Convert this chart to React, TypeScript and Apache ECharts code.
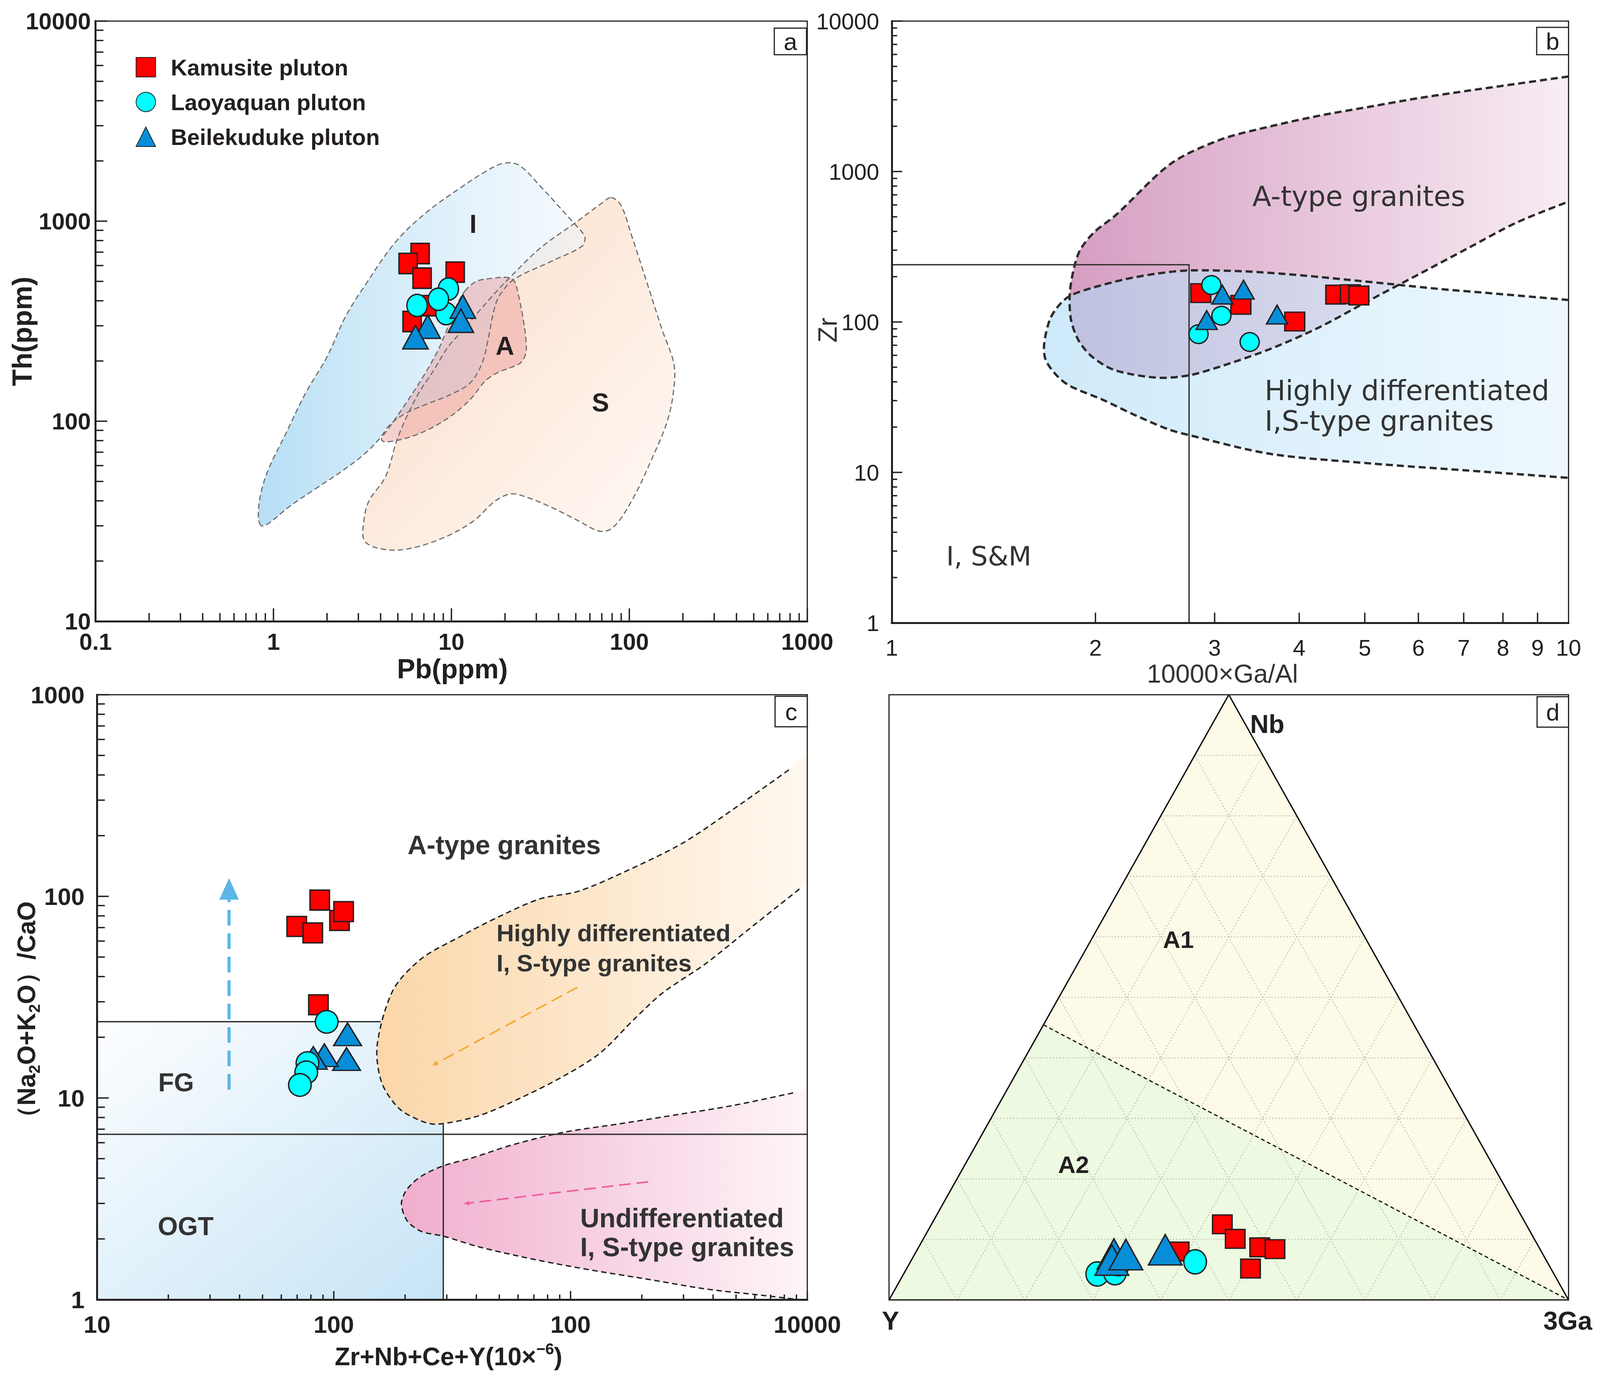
import React, { useEffect, useRef } from "react";
import * as echarts from "echarts";

const REF_W = 4170;
const H = 3519;
const INK = "#231f20";
const SANS = "'Liberation Sans', Arial, Helvetica, sans-serif";
const NARROW = "'Liberation Sans Narrow', 'Liberation Sans', Arial, sans-serif";
const DEJAVU = "'DejaVu Sans', Verdana, sans-serif";

const PLUTONS = ["Kamusite pluton", "Laoyaquan pluton", "Beilekuduke pluton"];
const PLUTON_COLORS = ["#ff0000", "#00ffff", "#078ed8"];
const PLUTON_SYMBOLS = ["rect", "circle", "triangle"];

// ---------------- (a) Th vs Pb ----------------
const A_X_RANGE = [0.1, 1000];
const A_Y_RANGE = [10, 10000];
const A_KAM = [[6.67, 689], [5.71, 614], [6.84, 519], [10.5, 556], [7.59, 378], [6.01, 315]];
const A_LAO = [[9.62, 458], [9.33, 345], [6.41, 379], [8.45, 407]];
const A_BEI = [[11.6, 374], [11.3, 318], [7.36, 297], [6.28, 263]];
const A_FIELD_I = [
  [0.85, 30.1], [0.822, 34.2], [0.851, 44], [0.94, 57.9], [1.156, 84.4], [1.52, 139], [1.99, 208],
  [2.54, 333], [3.27, 478], [4.88, 791], [7.34, 1117], [11.3, 1472], [15.3, 1755], [19.4, 1941],
  [23.8, 1911], [32.1, 1472], [47.9, 995], [54.9, 869], [56.4, 821], [54.1, 748], [36.6, 631],
  [22.6, 513], [18.7, 427], [17.3, 355], [16.1, 258], [14.9, 196], [12.8, 156], [10.1, 137],
  [7.31, 122], [5.59, 110], [4.51, 96], [3.94, 81.8], [3.27, 69], [2.44, 56.5], [1.74, 46.2],
  [1.24, 37.7], [0.94, 30.9],
];
const A_FIELD_S = [
  [78.9, 1312], [89.5, 1205], [103, 847], [126, 488], [154, 281], [177, 198], [179, 154], [165, 103],
  [134.6, 65.6], [102.6, 39.7], [80.9, 29.4], [68.2, 28.2], [52, 31.7], [37, 36.9], [26.3, 41.8],
  [21.5, 43.3], [17.5, 39.7], [13.3, 31.7], [8.88, 26.0], [5.52, 22.9], [3.93, 23.1], [3.24, 25.3],
  [3.21, 30.9], [3.43, 39.7], [4.27, 53], [5.02, 83.7], [6.39, 133], [7.93, 179], [9.57, 235],
  [11.5, 283], [16.4, 408], [21.4, 525], [32.0, 741], [49.2, 975], [70, 1230],
];
const A_FIELD_A = [
  [11.9, 447], [13.9, 501], [17.3, 519], [20.8, 523], [22.6, 501], [23.8, 427], [25.2, 332],
  [26.2, 258], [26.2, 219], [24.5, 196], [21.4, 185], [18.2, 175], [15.5, 159], [13.2, 133],
  [10.9, 113], [8.36, 96.2], [6.39, 85.7], [4.89, 80], [4.16, 79.1], [4.05, 81.8], [4.51, 94],
  [5.59, 124], [6.93, 167], [8.36, 224], [9.57, 296], [10.6, 372],
];

// ---------------- (b) Zr vs 10000Ga/Al ----------------
const B_X_RANGE = [1, 10];
const B_Y_RANGE = [1, 10000];
const B_X_LABEL_VALUES = [1, 2, 3, 4, 5, 6, 7, 8, 9, 10];
const B_X_TICKS = [2, 3, 4, 5, 6, 7, 8, 9];
const B_KAM = [[2.862, 155.6], [3.28, 130], [3.94, 100.7], [4.53, 152], [4.76, 153], [4.9, 150]];
const B_LAO = [[2.967, 176], [3.07, 110], [2.84, 83], [3.38, 73.6]];
const B_BEI = [[3.08, 152], [3.31, 164], [2.92, 103], [3.71, 112]];
const B_FIELD_A = [
  [10, 4285], [8.38, 3830], [7.08, 3437], [5.99, 3070], [5.06, 2687], [4.28, 2350], [3.617, 1991],
  [3.06, 1629], [2.585, 1128], [2.145, 515], [1.99, 394], [1.9, 303], [1.86, 231], [1.833, 155],
  [1.84, 104], [1.888, 75.5], [1.973, 59.2], [2.133, 47.9], [2.47, 42.6], [2.75, 44.2], [3.06, 50.6],
  [3.62, 66], [4.28, 92], [5.06, 138], [5.99, 206], [7.08, 307], [8.38, 458], [10, 631],
];
const B_FIELD_HD = [
  [10, 140], [7.707, 155], [6.515, 165], [5.507, 178], [4.656, 192], [3.935, 206], [3.325, 217],
  [2.75, 220], [2.47, 210], [2.21, 192], [1.973, 168], [1.833, 149], [1.765, 128.5], [1.713, 104],
  [1.68, 71.6], [1.688, 56.1], [1.752, 44.2], [1.833, 37.6], [2.05, 30.4], [2.294, 23.9],
  [2.566, 19.3], [2.75, 17.7], [3.617, 13.3], [5.06, 11.5], [7.08, 10.3], [10, 9.2],
];
const B_LINES = [[1, 240], [2.75, 240], [2.75, 1]];

// ---------------- (c) (Na2O+K2O)/CaO vs Zr+Nb+Ce+Y ----------------
const C_X_RANGE = [10, 10000];
const C_Y_RANGE = [1, 1000];
const C_X_TICK_VALUES = [10, 100, 1000, 10000];
const C_X_LABELS = ["10", "100", "100", "10000"];
const C_KAM = [[87.2, 95.8], [105.7, 75.9], [110, 84], [69.7, 70.9], [81.5, 65.9], [86.1, 29.0]];
const C_LAO = [[93.3, 23.85], [77.4, 14.9], [76.5, 13.4], [71.9, 11.6]];
const C_BEI = [[114.3, 20.7], [113.2, 15.6], [91.2, 16.3], [81.9, 15.8]];
const C_FIELD_FG = [[10, 1], [290, 1], [290, 23.9], [10, 23.9]];
const C_FIELD_HD = [
  [8356, 424], [5012, 277], [3006, 185], [1803, 137], [1081, 106], [745, 97.3], [494, 78.9],
  [335, 62.4], [234, 49.0], [178, 34.3], [152.5, 18.3], [159, 12.0], [188, 8.9], [234, 7.69],
  [273, 7.41], [407, 8.14], [615, 10.0], [931, 12.8], [1333, 16.7], [1858, 24.6], [2449, 33.2],
  [3707, 46.2], [5610, 68.1], [9290, 109],
];
const C_FIELD_UD = [
  [8710, 10.6], [4885, 9.19], [2812, 8.26], [1618, 7.45], [931, 6.75], [567, 5.85], [385, 5.05],
  [292, 4.62], [234, 4.09], [204, 3.53], [193, 3.0], [204, 2.46], [234, 2.18], [292, 2.06],
  [407, 1.83], [706, 1.58], [1227, 1.4], [2133, 1.26], [3707, 1.13], [6442, 1.05], [9204, 1.0],
];
const C_LINE_FG = [[10, 23.9], [158, 23.9]];
const C_LINE_OGT = [[10, 6.6], [10000, 6.6]];
const C_LINE_VERT = [[290, 1], [290, 7.41]];
const C_ARROW_BLUE = [[36.1, 11.0], [36.1, 123]];
const C_ARROW_ORANGE = [[1069, 35.4], [261, 14.5]];
const C_ARROW_PINK = [[2128, 3.84], [354, 2.99]];

// ---------------- (d) Nb - Y - 3Ga ternary (percent: Y, Nb, 3Ga) ----------------
const D_KAM = [[44.7, 12.5, 42.8], [44.0, 10.1, 45.9], [41.1, 8.7, 50.2], [39.0, 8.4, 52.6], [44.2, 5.2, 50.6], [53.3, 8.0, 38.7]];
const D_LAO = [[67.2, 4.3, 28.5], [64.5, 4.5, 31.0], [51.8, 6.3, 41.9], [63.2, 6.0, 30.8]];
const D_BEI = [[63.1, 7.6, 29.3], [63.9, 6.6, 29.5], [61.4, 7.5, 31.1], [55.2, 8.3, 36.5]];
const D_VERTEX_Y = [100, 0, 0];
const D_VERTEX_NB = [0, 100, 0];
const D_VERTEX_GA = [0, 0, 100];
const D_BOUNDARY = [[54.55, 45.45, 0], [0, 0, 100]];
const D_GRID_STEPS = [10, 20, 30, 40, 50, 60, 70, 80, 90];

// ---------------- helpers ----------------
function tern(r) {
  const s = r[0] + r[1] + r[2];
  const n = r[1] / s;
  const g = r[2] / s;
  return [g + n / 2, n];
}

const plainNum = (v) => String(Number(Number(v).toPrecision(6)));

function logTicks(lo, hi) {
  const major = [];
  const minor = [];
  const e0 = Math.round(Math.log10(lo));
  const e1 = Math.round(Math.log10(hi));
  for (let e = e0; e <= e1; e++) {
    major.push(Number(Math.pow(10, e).toPrecision(6)));
    if (e < e1) for (let m = 2; m <= 9; m++) minor.push(Number((m * Math.pow(10, e)).toPrecision(6)));
  }
  return { major, minor };
}

function tickSeries(g, xT, yT, xMin, yMin, lens) {
  const data = [];
  xT.major.forEach((v) => data.push([v, yMin, 0]));
  xT.minor.forEach((v) => data.push([v, yMin, 1]));
  yT.major.forEach((v) => data.push([xMin, v, 2]));
  yT.minor.forEach((v) => data.push([xMin, v, 3]));
  return {
    type: "custom",
    coordinateSystem: "cartesian2d",
    xAxisIndex: g,
    yAxisIndex: g,
    silent: true,
    clip: false,
    z: 12,
    data,
    renderItem: (params, api) => {
      const k = api.value(2);
      const p = api.coord([api.value(0), api.value(1)]);
      const len = lens[k];
      const shape = k < 2
        ? { x1: p[0], y1: p[1], x2: p[0], y2: p[1] - len }
        : { x1: p[0], y1: p[1], x2: p[0] + len, y2: p[1] };
      return { type: "line", shape, style: { stroke: INK, lineWidth: 3.5 } };
    },
  };
}

function shapeSeries(g, pts, o) {
  const anchor = pts[Math.floor(pts.length / 2)];
  return {
    type: "custom",
    coordinateSystem: "cartesian2d",
    xAxisIndex: g,
    yAxisIndex: g,
    silent: true,
    clip: true,
    z: o.z || 1,
    data: [anchor],
    renderItem: (params, api) => {
      if (params.dataIndex !== 0) return null;
      const points = pts.map((p) => api.coord(p));
      return {
        type: o.open ? "polyline" : "polygon",
        shape: { points, smooth: o.smooth || 0 },
        style: {
          fill: o.open ? "none" : o.fill || "none",
          stroke: o.stroke || "none",
          lineWidth: o.lineWidth || 0,
          lineDash: o.dash || null,
        },
      };
    },
  };
}

function arrowSeries(g, pts, color, lw, dash, headLen, headW) {
  return {
    type: "custom",
    coordinateSystem: "cartesian2d",
    xAxisIndex: g,
    yAxisIndex: g,
    silent: true,
    clip: true,
    z: 4,
    data: [pts[0]],
    renderItem: (params, api) => {
      const p0 = api.coord(pts[0]);
      const p1 = api.coord(pts[1]);
      const dx = p1[0] - p0[0];
      const dy = p1[1] - p0[1];
      const L = Math.hypot(dx, dy);
      const ux = dx / L;
      const uy = dy / L;
      const b = [p1[0] - ux * headLen, p1[1] - uy * headLen];
      const l = [b[0] - (uy * headW) / 2, b[1] + (ux * headW) / 2];
      const r = [b[0] + (uy * headW) / 2, b[1] - (ux * headW) / 2];
      return {
        type: "group",
        children: [
          { type: "line", shape: { x1: p0[0], y1: p0[1], x2: b[0], y2: b[1] }, style: { stroke: color, lineWidth: lw, lineDash: dash } },
          { type: "polygon", shape: { points: [p1, l, r] }, style: { fill: color } },
        ],
      };
    },
  };
}

function ternGridSeries() {
  const data = [];
  D_GRID_STEPS.forEach((p) => {
    const q = 100 - p;
    const segs = [
      [tern([q, p, 0]), tern([0, p, q])],
      [tern([q, 0, p]), tern([0, q, p])],
      [tern([p, 0, q]), tern([p, q, 0])],
    ];
    segs.forEach((s) => data.push([s[0][0], s[0][1], s[1][0], s[1][1]]));
  });
  return {
    type: "custom",
    coordinateSystem: "cartesian2d",
    xAxisIndex: 3,
    yAxisIndex: 3,
    silent: true,
    z: 2,
    data,
    renderItem: (params, api) => {
      const a = api.coord([api.value(0), api.value(1)]);
      const b = api.coord([api.value(2), api.value(3)]);
      return { type: "line", shape: { x1: a[0], y1: a[1], x2: b[0], y2: b[1] }, style: { stroke: "#c4c4c4", lineWidth: 3, lineDash: [3, 5] } };
    },
  };
}

function scatter(pi, g, data, size, z) {
  return {
    type: "scatter",
    name: PLUTONS[pi],
    xAxisIndex: g,
    yAxisIndex: g,
    data,
    symbol: PLUTON_SYMBOLS[pi],
    symbolSize: size,
    z: z || 5,
    silent: true,
    itemStyle: { color: PLUTON_COLORS[pi], borderColor: INK, borderWidth: 3.5, opacity: 1 },
    emphasis: { disabled: true },
  };
}

const grad = (x2, y2, c0, c1) =>
  new echarts.graphic.LinearGradient(0, 0, x2, y2, [
    { offset: 0, color: c0 },
    { offset: 1, color: c1 },
  ]);

function axisBase(fontSize, weight, family, margin, formatter) {
  return {
    axisLine: { show: true, onZero: false, lineStyle: { color: INK, width: 5 } },
    axisTick: { show: false },
    minorTick: { show: false },
    splitLine: { show: false },
    axisLabel: { fontSize, fontWeight: weight, fontFamily: family, color: INK, margin, formatter: formatter || plainNum },
    z: 10,
  };
}

function txt(x, y, text, size, o = {}) {
  const align = o.align || "center";
  return {
    type: "text",
    x,
    y,
    z: 100,
    silent: true,
    rotation: o.rot || 0,
    style: {
      text,
      fontSize: size,
      fontFamily: o.family || SANS,
      fontWeight: o.weight || "normal",
      fill: o.color || INK,
      align,
      verticalAlign: "middle",
      textAlign: align,
      textVerticalAlign: "middle",
      rich: o.rich,
    },
  };
}

function buildOption(sx) {
  const X = (v) => v * sx;
  const letterBox = (x, y, w, h, letter) => [
    { type: "rect", z: 99, silent: true, shape: { x: X(x), y, width: X(w), height: h }, style: { fill: "#fff", stroke: INK, lineWidth: 3 } },
    txt(X(x + w / 2), y + h / 2, letter, 62),
  ];

  const gridStyle = { show: true, borderColor: INK, borderWidth: 3, backgroundColor: "transparent", z: 10 };
  const grids = [
    { left: X(249), top: 54, width: X(1855), height: 1536, ...gridStyle },
    { left: X(2324), top: 54, width: X(1764), height: 1540, ...gridStyle },
    { left: X(253), top: 1778, width: X(1851), height: 1548, ...gridStyle },
    { left: X(2317), top: 1778, width: X(1771), height: 1549, ...gridStyle },
  ];

  const cLabel = (v) => {
    let best = 0;
    C_X_TICK_VALUES.forEach((t, i) => {
      if (Math.abs(Math.log10(t) - Math.log10(v)) < Math.abs(Math.log10(C_X_TICK_VALUES[best]) - Math.log10(v))) best = i;
    });
    return C_X_LABELS[best];
  };

  const xAxis = [
    { gridIndex: 0, type: "log", logBase: 10, min: A_X_RANGE[0], max: A_X_RANGE[1], ...axisBase(60, "bold", SANS, 22) },
    {
      gridIndex: 1, type: "log", logBase: 10, min: B_X_RANGE[0], max: B_X_RANGE[1], ...axisBase(58, "normal", NARROW, 34),
      axisLabel: { fontSize: 58, fontFamily: NARROW, color: INK, margin: 34, customValues: B_X_LABEL_VALUES, formatter: plainNum },
    },
    { gridIndex: 2, type: "log", logBase: 10, min: C_X_RANGE[0], max: C_X_RANGE[1], ...axisBase(62, "bold", SANS, 32, cLabel) },
    { gridIndex: 3, type: "value", min: 0, max: 1, show: false },
  ];
  const yAxis = [
    { gridIndex: 0, type: "log", logBase: 10, min: A_Y_RANGE[0], max: A_Y_RANGE[1], ...axisBase(60, "bold", SANS, 12) },
    { gridIndex: 1, type: "log", logBase: 10, min: B_Y_RANGE[0], max: B_Y_RANGE[1], ...axisBase(58, "normal", NARROW, 32) },
    { gridIndex: 2, type: "log", logBase: 10, min: C_Y_RANGE[0], max: C_Y_RANGE[1], ...axisBase(62, "bold", SANS, 32) },
    { gridIndex: 3, type: "value", min: 0, max: 1, show: false },
  ];

  const dashA = { stroke: "#6e6e6e", lineWidth: 3, dash: [14, 8], smooth: 0.35, z: 2 };
  const dashB = { stroke: "#2b2b2b", lineWidth: 6, dash: [18, 10], smooth: 0.3, open: true, z: 2 };
  const dashC = { stroke: "#222", lineWidth: 3.5, dash: [14, 9], smooth: 0.3, open: true, z: 2 };

  const series = [
    // ---- panel a
    scatter(0, 0, A_KAM, [47, 52]),
    scatter(1, 0, A_LAO, [52, 57]),
    scatter(2, 0, A_BEI, [65, 60]),
    shapeSeries(0, A_FIELD_S, { fill: grad(1, 1, "rgb(250,219,196)", "rgb(255,250,247)"), smooth: 0.35 }),
    shapeSeries(0, A_FIELD_I, { fill: grad(1, 0, "rgba(172,218,244,0.88)", "rgba(238,246,252,0.55)"), smooth: 0.35 }),
    shapeSeries(0, A_FIELD_A, { fill: "rgba(236,150,148,0.45)", smooth: 0.35 }),
    shapeSeries(0, A_FIELD_S, dashA),
    shapeSeries(0, A_FIELD_I, dashA),
    shapeSeries(0, A_FIELD_A, dashA),
    tickSeries(0, logTicks(0.1, 1000), logTicks(10, 10000), 0.1, 10, [33, 21, 30, 20]),

    // ---- panel b
    shapeSeries(1, [[11, 4600], ...B_FIELD_A, [11, 700]], { fill: grad(1, 0, "rgb(214,158,194)", "rgb(250,242,247)"), smooth: 0.3 }),
    shapeSeries(1, [[11, 135], ...B_FIELD_HD, [11, 9]], { fill: grad(1, 0, "rgba(170,218,246,0.58)", "rgba(225,242,253,0.5)"), smooth: 0.3 }),
    shapeSeries(1, B_FIELD_A, dashB),
    shapeSeries(1, B_FIELD_HD, dashB),
    shapeSeries(1, B_LINES, { open: true, stroke: "#333", lineWidth: 3.5, z: 3 }),
    tickSeries(1, { major: B_X_TICKS, minor: [] }, logTicks(1, 10000), 1, 1, [26, 0, 27, 14]),
    scatter(0, 1, B_KAM, [51, 48]),
    scatter(1, 1, B_LAO, [49, 48]),
    scatter(2, 1, B_BEI, [54, 48]),

    // ---- panel c
    shapeSeries(2, C_FIELD_FG, { fill: grad(1, 1, "#fdfeff", "#c6e4f6") }),
    shapeSeries(2, [[13000, 650], ...C_FIELD_HD, [13000, 150]], { fill: grad(1, 0, "rgb(251,214,168)", "rgb(255,251,246)"), smooth: 0.3 }),
    shapeSeries(2, [[13000, 12], ...C_FIELD_UD, [13000, 0.97]], { fill: grad(1, 0, "rgb(240,174,204)", "rgb(255,251,253)"), smooth: 0.3 }),
    shapeSeries(2, C_LINE_FG, { open: true, stroke: "#333", lineWidth: 3.5, z: 3 }),
    shapeSeries(2, C_LINE_OGT, { open: true, stroke: "#333", lineWidth: 3.5, z: 3 }),
    shapeSeries(2, C_LINE_VERT, { open: true, stroke: "#333", lineWidth: 3.5, z: 3 }),
    shapeSeries(2, C_FIELD_HD, dashC),
    shapeSeries(2, C_FIELD_UD, dashC),
    arrowSeries(2, C_ARROW_BLUE, "#5bb5e6", 8, [40, 20], 55, 50),
    arrowSeries(2, C_ARROW_ORANGE, "#f5a733", 4, [30, 15], 14, 12),
    arrowSeries(2, C_ARROW_PINK, "#ec5d9f", 4, [30, 15], 14, 12),
    tickSeries(2, logTicks(10, 10000), logTicks(1, 1000), 10, 1, [22, 13, 30, 20]),
    scatter(0, 2, C_KAM, [50, 51]),
    scatter(2, 2, C_BEI, [71, 58]),
    scatter(1, 2, C_LAO, [58, 58]),

    // ---- panel d
    shapeSeries(3, [tern(D_VERTEX_Y), tern(D_BOUNDARY[0]), tern(D_VERTEX_GA)], { fill: "#edf9e0" }),
    shapeSeries(3, [tern(D_VERTEX_NB), tern(D_BOUNDARY[0]), tern(D_VERTEX_GA)], { fill: "#fdfbe7" }),
    ternGridSeries(),
    shapeSeries(3, D_BOUNDARY.map(tern), { open: true, stroke: "#111", lineWidth: 3, dash: [10, 7], z: 3 }),
    shapeSeries(3, [tern(D_VERTEX_Y), tern(D_VERTEX_NB), tern(D_VERTEX_GA)], { stroke: "#111", lineWidth: 3.5, z: 3 }),
    scatter(0, 3, D_KAM.map(tern), [50, 48]),
    scatter(1, 3, D_LAO.map(tern), [58, 62]),
    scatter(2, 3, D_BEI.map(tern), [86, 78]),
  ];

  const subRich = {
    t: { fontSize: 64, fontWeight: "bold", fontFamily: SANS, fill: INK, lineHeight: 80 },
    s: { fontSize: 40, fontWeight: "bold", fontFamily: SANS, fill: INK, lineHeight: 40, verticalAlign: "bottom" },
    p: { fontSize: 40, fontWeight: "bold", fontFamily: SANS, fill: INK, lineHeight: 40, verticalAlign: "top" },
  };

  const graphic = [
    // panel a
    txt(X(1233), 573, "I", 66, { weight: "bold" }),
    txt(X(1316), 885, "A", 66, { weight: "bold" }),
    txt(X(1565), 1030, "S", 66, { weight: "bold" }),
    txt(X(1179), 1712, "Pb(ppm)", 70, { weight: "bold" }),
    txt(X(58), 848, "Th(ppm)", 70, { weight: "bold", rot: Math.PI / 2 }),
    ...letterBox(2018, 72, 84, 68, "a"),
    // panel b
    txt(X(3264), 502, "A-type granites", 71, { align: "left", family: DEJAVU, color: "#333" }),
    txt(X(3296), 999, "Highly differentiated", 71, { align: "left", family: DEJAVU, color: "#333" }),
    txt(X(3296), 1077, "I,S-type granites", 71, { align: "left", family: DEJAVU, color: "#333" }),
    txt(X(2466), 1423, "I, S&M", 68, { align: "left", family: DEJAVU, color: "#333" }),
    txt(X(3186), 1724, "10000×Ga/Al", 66, { color: "#333" }),
    txt(X(2156), 845, "Zr", 68, { rot: Math.PI / 2, color: "#333" }),
    ...letterBox(4005, 70, 83, 70, "b"),
    // panel c
    txt(X(1062), 2162, "A-type granites", 68, { align: "left", weight: "bold", color: "#333" }),
    txt(X(1294), 2387, "Highly differentiated", 62, { align: "left", weight: "bold", color: "#333" }),
    txt(X(1294), 2464, "I, S-type granites", 62, { align: "left", weight: "bold", color: "#333" }),
    txt(X(1512), 3117, "Undifferentiated", 68, { align: "left", weight: "bold", color: "#333" }),
    txt(X(1512), 3191, "I, S-type granites", 68, { align: "left", weight: "bold", color: "#333" }),
    txt(X(459), 2770, "FG", 66, { weight: "bold", color: "#333" }),
    txt(X(484), 3138, "OGT", 66, { weight: "bold", color: "#333" }),
    txt(X(1169), 3472, "{t|Zr+Nb+Ce+Y(10×}{p|−6}{t|)}", 64, { weight: "bold", rich: subRich }),
    txt(X(69), 2600, "{t|（Na}{s|2}{t|O+K}{s|2}{t|O）/CaO}", 64, { weight: "bold", rich: subRich, rot: Math.PI / 2 }),
    ...letterBox(2020, 1782, 84, 78, "c"),
    // panel d
    txt(X(3258), 1853, "Nb", 66, { align: "left", weight: "bold" }),
    txt(X(2321), 3380, "Y", 66, { weight: "bold" }),
    txt(X(4086), 3380, "3Ga", 66, { weight: "bold" }),
    txt(X(3071), 2404, "A1", 62, { weight: "bold" }),
    txt(X(2798), 2980, "A2", 62, { weight: "bold" }),
    ...letterBox(4006, 1783, 82, 78, "d"),
  ];

  const legendIconCenter = X(374);
  const legendTextLeft = X(439);
  return {
    animation: false,
    backgroundColor: "#ffffff",
    grid: grids,
    xAxis,
    yAxis,
    legend: {
      show: true,
      orient: "vertical",
      left: legendIconCenter - 25,
      top: 138,
      itemWidth: 50,
      itemHeight: 50,
      itemGap: 31,
      selectedMode: false,
      data: PLUTONS,
      formatter: (name) => `{n|${name}}`,
      textStyle: {
        fontSize: 58,
        fontWeight: "bold",
        fontFamily: SANS,
        color: INK,
        rich: {
          n: {
            fontSize: 58,
            fontWeight: "bold",
            fontFamily: SANS,
            color: INK,
            lineHeight: 58,
            padding: [0, 0, 0, Math.max(0, legendTextLeft - (legendIconCenter + 25 + 5))],
          },
        },
      },
    },
    series,
    graphic: { elements: graphic },
  };
}

export default function App() {
  const ref = useRef(null);
  const viewW = Math.min(typeof window !== "undefined" && window.innerWidth ? window.innerWidth : 4096, 4096, REF_W);
  useEffect(() => {
    const chart = echarts.init(ref.current, null, { renderer: "svg", width: viewW, height: H });
    chart.setOption(buildOption(viewW / REF_W));
    return () => chart.dispose();
  }, []);
  return (
    <div
      ref={ref}
      style={{ position: "absolute", left: 0, top: 0, width: viewW, height: H, background: "#fff" }}
    />
  );
}
